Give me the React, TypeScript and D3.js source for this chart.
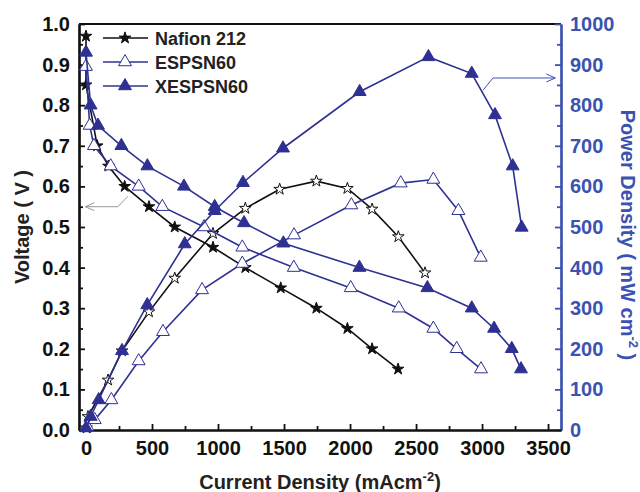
import { useEffect, useRef } from "react";
import * as d3 from "d3";

// Nafion 212
const nafionVCurrent = [0, 0, 85, 170, 293, 477, 672, 962, 1207, 1475, 1745, 1980, 2167, 2364];
const nafionVoltage = [0.97, 0.85, 0.7, 0.65, 0.6, 0.55, 0.5, 0.45, 0.4, 0.35, 0.3, 0.25, 0.2, 0.15];
const nafionPCurrent = [5, 15, 167, 273, 477, 672, 962, 1207, 1467, 1745, 1980, 2167, 2366, 2568];
const nafionPower = [5, 33, 123, 195, 291, 374, 484, 546, 593, 613, 595, 544, 476, 387];

// ESPSN60
const espVCurrent = [0, 28, 60, 187, 399, 578, 894, 1184, 1574, 2005, 2369, 2631, 2808, 2992];
const espVoltage = [0.895, 0.75, 0.7, 0.65, 0.6, 0.55, 0.5, 0.45, 0.4, 0.35, 0.3, 0.25, 0.2, 0.15];
const espPCurrent = [10, 66, 192, 399, 583, 879, 1184, 1576, 2010, 2384, 2631, 2821, 2990];
const espPower = [8, 25, 74, 170, 242, 345, 410, 480, 554, 608, 617, 540, 425];

// XESPSN60
const xespVCurrent = [0, 35, 91, 268, 465, 742, 975, 1197, 1495, 2071, 2586, 2922, 3091, 3225, 3295];
const xespVoltage = [0.93, 0.8, 0.75, 0.7, 0.65, 0.6, 0.55, 0.51, 0.46, 0.4, 0.35, 0.3, 0.25, 0.2, 0.15];
const xespPCurrent = [0, 35, 96, 273, 464, 748, 975, 1189, 1492, 2073, 2594, 2922, 3098, 3232, 3300];
const xespPower = [5, 33, 74, 195, 308, 458, 540, 609, 694, 833, 919, 878, 776, 650, 499];

const xTicks = [0, 500, 1000, 1500, 2000, 2500, 3000, 3500];
const vTicks = [0, 0.1, 0.2, 0.3, 0.4, 0.5, 0.6, 0.7, 0.8, 0.9, 1.0];
const pTicks = [0, 100, 200, 300, 400, 500, 600, 700, 800, 900, 1000];

const legendNames = ["Nafion 212", "ESPSN60", "XESPSN60"];

const FONT = "'Liberation Sans', Arial, Helvetica, sans-serif";
const BLACK = "#111111";
const NAVY = "#2e3192";
const AXIS_BLUE = "#3b52b0";
const STAR_SIZE = 42;
const TRI_SIZE = 72;

const App = () => {
  const svgRef = useRef(null);

  useEffect(() => {
    const width = 640;
    const height = 492;
    const margin = { top: 24, right: 79, bottom: 62, left: 79 };
    const innerW = width - margin.left - margin.right;
    const innerH = height - margin.top - margin.bottom;

    d3.select(svgRef.current).selectAll("*").remove();

    const root = d3
      .select(svgRef.current)
      .attr("width", width)
      .attr("height", height)
      .style("font-family", FONT);

    const svg = root.append("g").attr("transform", `translate(${margin.left},${margin.top})`);

    // Scales
    const x = d3.scaleLinear().domain([-53, 3598]).range([0, innerW]);
    const yV = d3.scaleLinear().domain([0, 1]).range([innerH, 0]);
    const yP = d3.scaleLinear().domain([0, 1000]).range([innerH, 0]);

    // Axes (ticks pointing inward)
    const styleAxis = (g, color) => {
      g.selectAll("path").attr("stroke", color).attr("stroke-width", 2.2);
      g.selectAll("line").attr("stroke", color).attr("stroke-width", 1.8);
      g.selectAll("text")
        .attr("fill", color)
        .attr("font-size", 20)
        .attr("font-weight", "bold")
        .attr("font-family", FONT);
    };

    // minor ticks
    const minorV = d3.range(0.05, 1, 0.1);
    const minorP = d3.range(50, 1000, 100);
    const minorX = d3.range(250, 3500, 500);

    svg
      .append("g")
      .call(d3.axisLeft(yV).tickValues(minorV).tickSize(-4).tickSizeOuter(0).tickFormat(""))
      .call((g) => styleAxis(g, BLACK));
    svg
      .append("g")
      .attr("transform", `translate(${innerW},0)`)
      .call(d3.axisRight(yP).tickValues(minorP).tickSize(-4).tickSizeOuter(0).tickFormat(""))
      .call((g) => styleAxis(g, AXIS_BLUE));
    svg
      .append("g")
      .attr("transform", `translate(0,${innerH})`)
      .call(d3.axisBottom(x).tickValues(minorX).tickSize(-4).tickSizeOuter(0).tickFormat(""))
      .call((g) => styleAxis(g, BLACK));

    // top border
    svg
      .append("line")
      .attr("x1", 0)
      .attr("x2", innerW)
      .attr("y1", 0)
      .attr("y2", 0)
      .attr("stroke", BLACK)
      .attr("stroke-width", 2.2);

    svg
      .append("g")
      .call(
        d3
          .axisLeft(yV)
          .tickValues(vTicks)
          .tickSize(-6)
          .tickSizeOuter(0)
          .tickPadding(9)
          .tickFormat(d3.format(".1f"))
      )
      .call((g) => styleAxis(g, BLACK));

    svg
      .append("g")
      .attr("transform", `translate(${innerW},0)`)
      .call(
        d3
          .axisRight(yP)
          .tickValues(pTicks)
          .tickSize(-6)
          .tickSizeOuter(0)
          .tickPadding(9)
          .tickFormat(d3.format("d"))
      )
      .call((g) => styleAxis(g, AXIS_BLUE));

    svg
      .append("g")
      .attr("transform", `translate(0,${innerH})`)
      .call(
        d3
          .axisBottom(x)
          .tickValues(xTicks)
          .tickSize(-6)
          .tickSizeOuter(0)
          .tickPadding(11)
          .tickFormat(d3.format("d"))
      )
      .call((g) => styleAxis(g, BLACK));

    // Axis titles
    svg
      .append("text")
      .attr("transform", `translate(-50,${innerH / 2}) rotate(-90)`)
      .attr("text-anchor", "middle")
      .attr("font-size", 20)
      .attr("font-weight", "bold")
      .attr("fill", "#222")
      .text("Voltage ( V )");

    const pTitle = svg
      .append("text")
      .attr("transform", `translate(${innerW + 60},${innerH / 2 + 8}) rotate(90)`)
      .attr("text-anchor", "middle")
      .attr("font-size", 20)
      .attr("font-weight", "bold")
      .attr("fill", AXIS_BLUE);
    pTitle.append("tspan").text("Power Density ( mW cm");
    pTitle.append("tspan").attr("font-size", 13).attr("dy", -8).text("-2");
    pTitle.append("tspan").attr("dy", 8).text(" )");

    const xTitle = svg
      .append("text")
      .attr("x", innerW / 2)
      .attr("y", innerH + 59)
      .attr("text-anchor", "middle")
      .attr("font-size", 20)
      .attr("font-weight", "bold")
      .attr("fill", "#222");
    xTitle.append("tspan").text("Current Density (mAcm");
    xTitle.append("tspan").attr("font-size", 13).attr("dy", -8).text("-2");
    xTitle.append("tspan").attr("dy", 8).text(")");

    // Series
    const series = [
      { cur: nafionVCurrent, val: nafionVoltage, y: yV, color: BLACK, sym: d3.symbolStar, fill: BLACK, size: STAR_SIZE },
      { cur: nafionPCurrent, val: nafionPower, y: yP, color: BLACK, sym: d3.symbolStar, fill: "white", size: STAR_SIZE },
      { cur: espVCurrent, val: espVoltage, y: yV, color: NAVY, sym: d3.symbolTriangle, fill: "white", size: TRI_SIZE },
      { cur: espPCurrent, val: espPower, y: yP, color: NAVY, sym: d3.symbolTriangle, fill: "white", size: TRI_SIZE },
      { cur: xespVCurrent, val: xespVoltage, y: yV, color: NAVY, sym: d3.symbolTriangle, fill: NAVY, size: TRI_SIZE },
      { cur: xespPCurrent, val: xespPower, y: yP, color: NAVY, sym: d3.symbolTriangle, fill: NAVY, size: TRI_SIZE },
    ];

    series.forEach((s) => {
      const pts = s.cur.map((c, i) => [c, s.val[i]]);
      const line = d3
        .line()
        .x((d) => x(d[0]))
        .y((d) => s.y(d[1]));
      svg
        .append("path")
        .datum(pts)
        .attr("fill", "none")
        .attr("stroke", s.color)
        .attr("stroke-width", 1.6)
        .attr("d", line);
      svg
        .selectAll(null)
        .data(pts)
        .enter()
        .append("path")
        .attr("transform", (d) => `translate(${x(d[0])},${s.y(d[1])})`)
        .attr("d", d3.symbol().type(s.sym).size(s.size)())
        .attr("fill", s.fill)
        .attr("stroke", s.color)
        .attr("stroke-width", 1);
    });

    // Annotation arrows
    const arrowHead = (g, tipX, tipY, dir, color) => {
      g.append("path")
        .attr("d", `M${tipX - dir * 9},${tipY - 4} L${tipX},${tipY} L${tipX - dir * 9},${tipY + 4}`)
        .attr("fill", "none")
        .attr("stroke", color)
        .attr("stroke-width", 1);
    };
    const ann = svg.append("g");
    ann
      .append("path")
      .attr("d", d3.line()([
        [x(318), yV(0.576)],
        [x(242), yV(0.55)],
        [x(-5), yV(0.55)],
      ]))
      .attr("fill", "none")
      .attr("stroke", "#9a9a9a")
      .attr("stroke-width", 1);
    arrowHead(ann, x(-5), yV(0.55), -1, "#9a9a9a");

    ann
      .append("path")
      .attr("d", d3.line()([
        [x(3008), yP(837)],
        [x(3083), yP(867)],
        [x(3555), yP(867)],
      ]))
      .attr("fill", "none")
      .attr("stroke", AXIS_BLUE)
      .attr("stroke-width", 1);
    arrowHead(ann, x(3555), yP(867), 1, AXIS_BLUE);

    // Legend
    const legendItems = [
      { name: legendNames[0], color: BLACK, sym: d3.symbolStar, fill: BLACK, size: STAR_SIZE },
      { name: legendNames[1], color: NAVY, sym: d3.symbolTriangle, fill: "white", size: TRI_SIZE },
      { name: legendNames[2], color: NAVY, sym: d3.symbolTriangle, fill: NAVY, size: TRI_SIZE },
    ];
    const legend = svg.append("g").attr("transform", "translate(24,14)");
    legendItems.forEach((it, i) => {
      const row = legend.append("g").attr("transform", `translate(0,${i * 24})`);
      row
        .append("line")
        .attr("x1", 0)
        .attr("x2", 45)
        .attr("stroke", it.color)
        .attr("stroke-width", 1.6);
      row
        .append("path")
        .attr("transform", "translate(22,0)")
        .attr("d", d3.symbol().type(it.sym).size(it.size)())
        .attr("fill", it.fill)
        .attr("stroke", it.color)
        .attr("stroke-width", 1);
      row
        .append("text")
        .attr("x", 52)
        .attr("y", 7)
        .attr("font-size", 18)
        .attr("font-weight", "bold")
        .attr("fill", "#222")
        .text(it.name);
    });
  }, []);

  return (
    <div style={{ position: "absolute", left: 0, top: 0 }}>
      <svg ref={svgRef} style={{ display: "block" }}></svg>
    </div>
  );
};

export default App;
